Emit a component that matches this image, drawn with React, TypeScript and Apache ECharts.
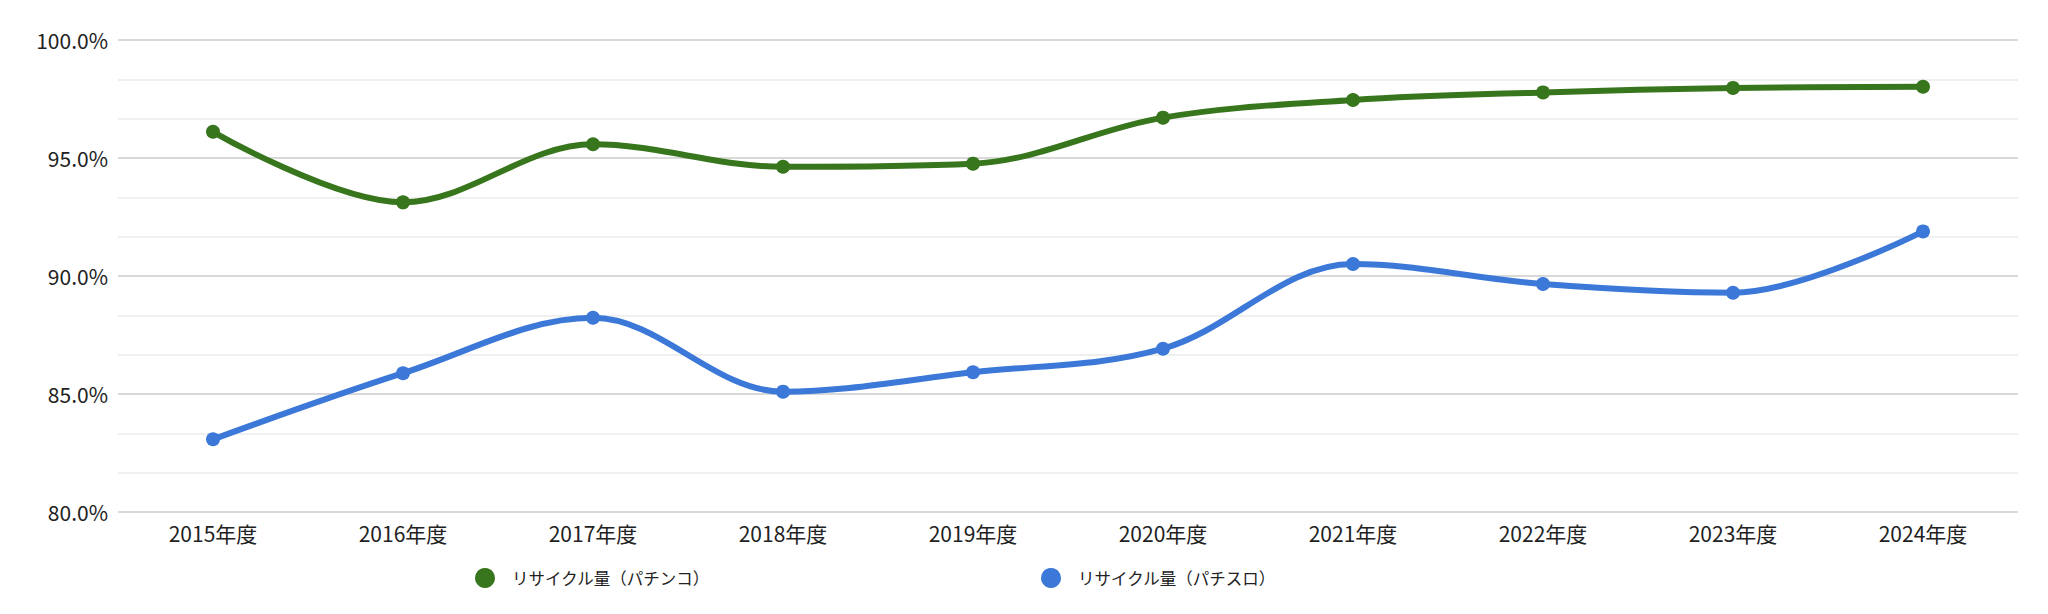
import React, { useEffect, useRef } from "react";
import * as echarts from "echarts";

const categories = ["2015年度", "2016年度", "2017年度", "2018年度", "2019年度", "2020年度", "2021年度", "2022年度", "2023年度", "2024年度"];
const pachinko = [96.11, 93.12, 95.58, 94.63, 94.76, 96.71, 97.46, 97.78, 97.97, 98.02];
const pachislot = [83.08, 85.88, 88.23, 85.1, 85.92, 86.92, 90.51, 89.66, 89.29, 91.89];
const seriesNames = ["リサイクル量（パチンコ）", "リサイクル量（パチスロ）"];
const colors = ["#38761d", "#3c78d8"];

const FONT = "'Noto Sans CJK JP', 'Noto Sans', sans-serif";

export default function App() {
  const ref = useRef<HTMLDivElement>(null);
  useEffect(() => {
    document.body.style.margin = "0";
    if (!ref.current) return;
    const chart = echarts.init(ref.current, undefined, { renderer: "svg" });
    chart.setOption({
      animation: false,
      backgroundColor: "#ffffff",
      textStyle: { fontFamily: FONT },
      grid: { left: 118, right: 30, top: 40, bottom: 102, containLabel: false },
      legend: {
        data: seriesNames,
        left: 470,
        top: 563,
        icon: "circle",
        itemWidth: 20,
        itemHeight: 20,
        itemGap: 331,
        textStyle: { fontSize: 16.5, color: "#222", fontFamily: FONT, padding: [0, 0, 0, 12] },
      },
      xAxis: {
        type: "category",
        data: categories,
        boundaryGap: true,
        axisLine: { show: false },
        axisTick: { show: false },
        axisLabel: { fontSize: 21, color: "#222", margin: 10, fontFamily: FONT },
      },
      yAxis: {
        type: "value",
        min: 80,
        max: 100,
        interval: 5,
        axisLine: { show: false },
        axisTick: { show: false },
        axisLabel: {
          fontSize: 21,
          color: "#222",
          margin: 10,
          fontFamily: FONT,
          formatter: (v: number) => v.toFixed(1) + "%",
        },
        splitLine: { show: true, lineStyle: { color: "#cccccc", width: 1.5 } },
        minorTick: { show: false, splitNumber: 3 },
        minorSplitLine: { show: true, lineStyle: { color: "#ebebeb", width: 1.5 } },
      },
      series: [
        {
          name: seriesNames[0],
          type: "line",
          data: pachinko,
          smooth: 0.35,
          symbol: "circle",
          symbolSize: 14,
          lineStyle: { width: 6, color: colors[0] },
          itemStyle: { color: colors[0] },
        },
        {
          name: seriesNames[1],
          type: "line",
          data: pachislot,
          smooth: 0.35,
          symbol: "circle",
          symbolSize: 14,
          lineStyle: { width: 6, color: colors[1] },
          itemStyle: { color: colors[1] },
        },
      ],
    });
    return () => chart.dispose();
  }, []);
  return <div ref={ref} style={{ width: 2048, height: 614 }} />;
}
